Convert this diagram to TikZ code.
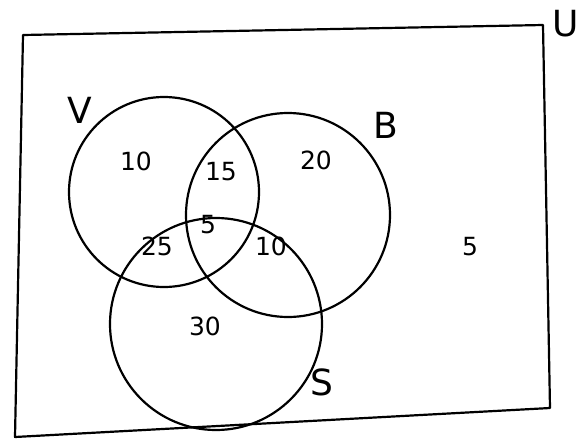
\documentclass[tikz,border=0pt]{standalone}
\usepackage{fontspec}
\setmainfont{DejaVu Sans}
\begin{document}
\begin{tikzpicture}[x=1pt,y=-1pt,
  hand/.style={line width=2.2pt,black,line join=round,line cap=round},
  num/.style={font=\fontsize{25}{25}\selectfont,inner sep=0pt},
  setlbl/.style={font=\fontsize{36}{36}\selectfont,inner sep=0pt}]
\useasboundingbox (0,0) rectangle (582,440);
\fill[white] (0,0) rectangle (582,440);
% universe
\coordinate (tl) at (23,35);
\coordinate (tr) at (543,25);
\coordinate (br) at (550,408);
\coordinate (bl) at (15,437);
\draw[hand] (tl) -- (tr) -- (br) -- (bl) -- cycle;
% sets
\node[hand,draw,circle,minimum size=190pt] (V) at (164,192) {};
\node[hand,draw,circle,minimum size=204pt] (B) at (288,215) {};
\node[hand,draw,circle,minimum size=212pt] (S) at (216,324) {};
% set labels
\node[setlbl] (lV) at (80,110) {V};
\node[setlbl] (lB) at (386,125) {B};
\node[setlbl] (lS) at (322,382) {S};
\node[setlbl,anchor=west] (lU) at (552,24) {U};
% region numbers
\node[num] (r1) at (136,161) {10};
\node[num] (r2) at (221,172) {15};
\node[num] (r3) at (316,160) {20};
\node[num] (r4) at (208,225) {5};
\node[num] (r5) at (157,246) {25};
\node[num] (r6) at (271,246) {10};
\node[num] (r7) at (470,247) {5};
\node[num] (r8) at (205,326) {30};
\end{tikzpicture}
\end{document}
